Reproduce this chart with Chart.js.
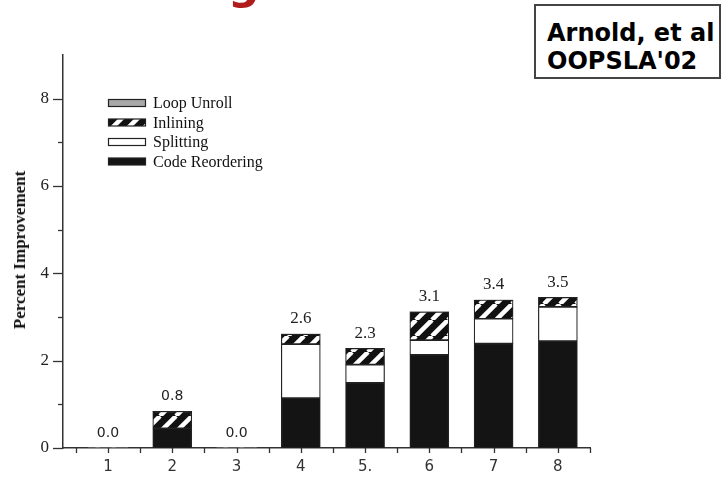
<!DOCTYPE html>
<html>
<head>
<meta charset="utf-8">
<script src="https://cdn.jsdelivr.net/npm/chart.js@4.4.0/dist/chart.umd.min.js"></script>
<style>
  html, body { margin: 0; padding: 0; background: #fff; }
  #wrap { position: relative; width: 722px; height: 477px; overflow: hidden; }
  #c { position: absolute; left: 0; top: 0; }
  #ref {
    position: absolute; left: 534px; top: 4px; width: 183px; height: 71px;
    border: 2px solid #444; background: #fff; box-sizing: content-box;
    font-family: "DejaVu Sans", sans-serif; font-weight: bold; font-size: 24px;
    line-height: 28px; color: #000; padding: 0;
  }
  #ref div { position: absolute; left: 11px; white-space: nowrap; }
  #deco { position: absolute; left: 228px; top: -38px; font-family: "DejaVu Sans", sans-serif;
    font-weight: bold; font-size: 44px; line-height: 44px; color: #b01c1c; }
  #ytitle {
    position: absolute; left: 20px; top: 250px; transform: translate(-50%, -50%) rotate(-90deg);
    font-family: "Liberation Serif", serif; font-weight: bold; font-size: 17px; white-space: nowrap; color: #111;
  }
</style>
</head>
<body>
<div id="wrap">
  <canvas id="c" width="722" height="477"></canvas>
  <div id="deco">g</div>
  <div id="ref"><div style="top:13px">Arnold, et al</div><div style="top:41px">OOPSLA'02</div></div>
  <div id="ytitle">Percent Improvement</div>
</div>
<script>
// ---- data ----
const categories = ["1", "2", "3", "4", "5.", "6", "7", "8"];
const categoryPositions = [1, 2, 3, 4, 5, 6, 7, 8];
const codeReordering = [0, 0.45, 0, 1.14, 1.49, 2.13, 2.39, 2.45];
const splitting      = [0, 0, 0, 1.24, 0.42, 0.34, 0.57, 0.78];
const inlining       = [0, 0.39, 0, 0.23, 0.37, 0.65, 0.43, 0.22];
const loopUnroll     = [0, 0, 0, 0, 0, 0, 0, 0];
const totalLabels = ["0.0", "0.8", "0.0", "2.6", "2.3", "3.1", "3.4", "3.5"];
const yTickValues = [0, 2, 4, 6, 8];
const seriesNames = ["Code Reordering", "Splitting", "Inlining", "Loop Unroll"];

// ---- styles ----
function makeHatch() {
  const s = 16;
  const cv = document.createElement('canvas');
  cv.width = s; cv.height = s;
  const g = cv.getContext('2d');
  g.fillStyle = '#111';
  g.fillRect(0, 0, s, s);
  g.strokeStyle = '#fff';
  g.lineWidth = 4.5;
  for (const o of [-s, 0, s]) {
    g.beginPath();
    g.moveTo(o, s);
    g.lineTo(o + s, 0);
    g.stroke();
  }
  return g.createPattern(cv, 'repeat');
}
const ctx = document.getElementById('c').getContext('2d');
const hatch = makeHatch();
const fills = ['#141414', '#ffffff', hatch, '#a8a8a8'];
const seriesData = [codeReordering, splitting, inlining, loopUnroll];

const datasets = seriesData.map((arr, k) => ({
  label: seriesNames[k],
  data: arr.map((v, i) => ({ x: categoryPositions[i], y: v })),
  backgroundColor: fills[k],
  borderColor: '#222',
  borderWidth: (c) => (c.raw && c.raw.y > 0 ? 1.2 : 0),
  borderSkipped: false,
  barThickness: 39,
  stack: 's'
}));

const tickPlugin = {
  id: 'ticks',
  afterDraw(chart) {
    const g = chart.ctx, xs = chart.scales.x, ys = chart.scales.y;
    g.save();
    g.strokeStyle = '#333';
    g.lineWidth = 1.3;
    for (let v = 0; v <= 8; v++) {
      const py = Math.round(ys.getPixelForValue(v)) + 0.5;
      const len = v % 2 === 0 ? 10 : 5;
      g.beginPath(); g.moveTo(ys.right, py); g.lineTo(ys.right - len, py); g.stroke();
    }
    for (let v = 0.5; v <= 8.5; v += 0.5) {
      const px = Math.round(xs.getPixelForValue(v)) + 0.5;
      g.beginPath(); g.moveTo(px, xs.top); g.lineTo(px, xs.top + 5); g.stroke();
    }
    g.restore();
  }
};

const valuePlugin = {
  id: 'values',
  afterDatasetsDraw(chart) {
    const g = chart.ctx, xs = chart.scales.x, ys = chart.scales.y;
    g.save();
    g.textAlign = 'center';
    g.textBaseline = 'middle';
    g.fillStyle = '#222';
    categoryPositions.forEach((pos, i) => {
      const total = seriesData.reduce((s, arr) => s + arr[i], 0);
      const px = xs.getPixelForValue(pos);
      const py = ys.getPixelForValue(total) - 15;
      g.font = i < 3 ? '14px "DejaVu Sans", sans-serif' : '17px "Liberation Serif", serif';
      g.fillText(totalLabels[i], px, py);
    });
    g.restore();
  }
};

const legendPlugin = {
  id: 'customLegend',
  afterDraw(chart) {
    const g = chart.ctx;
    g.save();
    const order = [3, 2, 1, 0];
    order.forEach((k, row) => {
      const cy = 103 + row * 19.5;
      g.fillStyle = fills[k];
      g.fillRect(108, cy - 3.5, 37, 7);
      g.strokeStyle = '#222';
      g.lineWidth = 1.2;
      g.strokeRect(108.5, cy - 3.5, 37, 7);
      g.fillStyle = '#111';
      g.font = '16px "Liberation Serif", serif';
      g.textBaseline = 'middle';
      g.textAlign = 'left';
      g.fillText(seriesNames[k], 153, cy + 1);
    });
    g.restore();
  }
};

new Chart(ctx, {
  type: 'bar',
  data: { datasets },
  options: {
    responsive: false,
    animation: false,
    layout: { padding: { top: 55, right: 132, left: 0, bottom: 0 } },
    plugins: { legend: { display: false }, tooltip: { enabled: false } },
    scales: {
      x: {
        type: 'linear',
        min: 0.3, max: 8.5,
        offset: false,
        stacked: true,
        grid: { display: false, drawTicks: false, offset: false },
        border: { display: true, color: '#333', width: 1.5 },
        afterBuildTicks: (s) => { s.ticks = categoryPositions.map(v => ({ value: v })); },
        ticks: {
          autoSkip: false, maxRotation: 0, padding: 10,
          color: '#333', font: { family: '"DejaVu Sans", sans-serif', size: 15 },
          callback: (v) => { const i = categoryPositions.indexOf(v); return i >= 0 ? categories[i] : ''; }
        },
        afterFit: (s) => { s.height = 29; }
      },
      y: {
        min: 0, max: 9,
        stacked: true,
        grid: { display: false, drawTicks: false },
        border: { display: true, color: '#333', width: 1.5 },
        afterBuildTicks: (s) => { s.ticks = yTickValues.map(v => ({ value: v })); },
        ticks: {
          padding: 14, color: '#222',
          font: { family: '"Liberation Serif", serif', size: 17 },
          callback: (v) => String(v)
        },
        afterFit: (s) => { s.width = 63; }
      }
    }
  },
  plugins: [tickPlugin, valuePlugin, legendPlugin]
});
</script>
</body>
</html>
